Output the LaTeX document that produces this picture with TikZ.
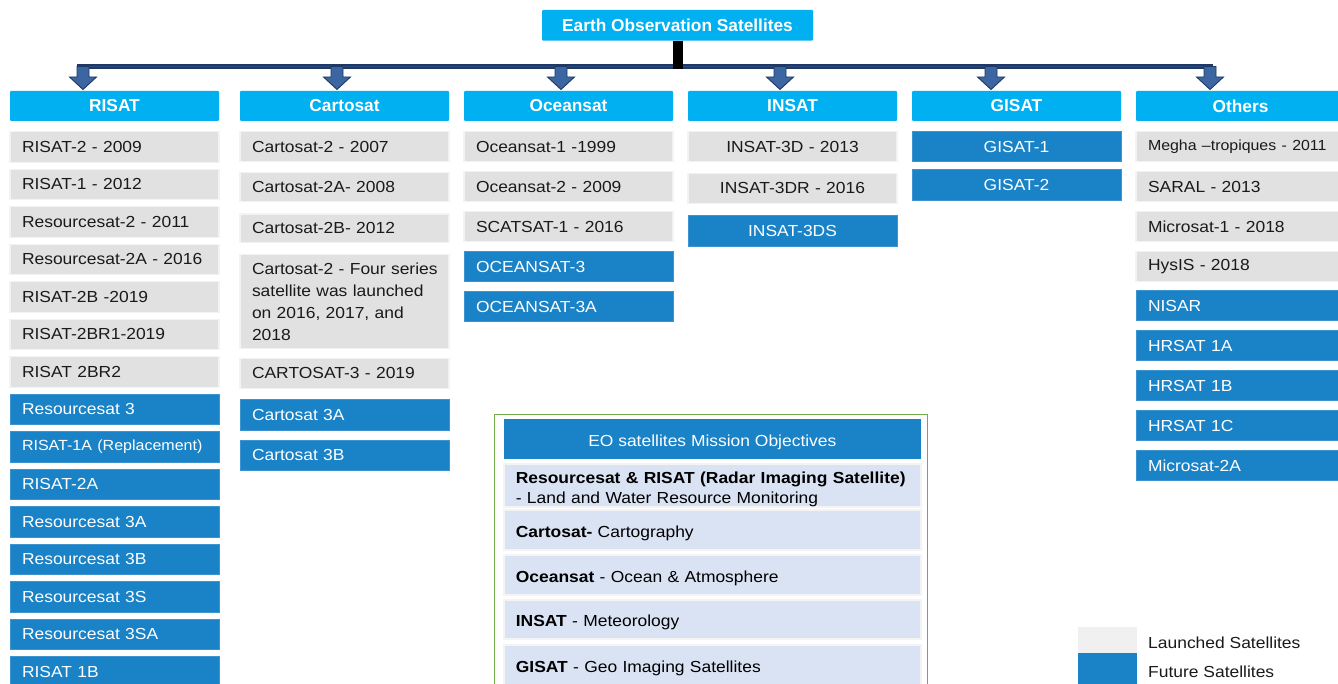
\documentclass[tikz,border=0pt]{standalone}
\usepackage{fontspec}
\setmainfont{Liberation Sans}
\newfontfamily\itemfont{Liberation Sans}[FakeStretch=1.09]
\definecolor{hdr}{HTML}{00B0F0}
\definecolor{fut}{HTML}{1A82C6}
\definecolor{futedge}{HTML}{3C95D0}
\definecolor{lau}{HTML}{E1E1E1}
\definecolor{lauedge}{HTML}{F3F3F3}
\definecolor{leggray}{HTML}{F0F0F0}
\definecolor{objfill}{HTML}{DAE3F3}
\definecolor{objedge}{HTML}{F4F4F4}
\definecolor{navy}{HTML}{1F3864}
\definecolor{businside}{HTML}{2A4C82}
\definecolor{arrowfill}{HTML}{3B66A2}
\definecolor{grn}{HTML}{70AD47}
\definecolor{txt}{HTML}{1A1A1A}
\newcommand{\lowstrut}{\rule{0pt}{18pt}}
\tikzset{
  hdrbox/.style={anchor=north west, outer sep=0pt, inner sep=0pt, fill=hdr, text=white,
    font=\fontsize{17.3}{20}\selectfont\bfseries, minimum width=209pt, minimum height=30pt,
    rounded corners=1pt},
  launched/.style={anchor=north west, outer sep=0pt, fill=lau, draw=lauedge, line width=1.2pt,
    minimum height=30pt, text width=185pt, inner xsep=12pt, inner ysep=0pt, align=left,
    text=txt, font=\itemfont\fontsize{16}{22}\selectfont},
  future/.style={launched, fill=fut, draw=futedge, line width=0.6pt, text=white},
  launchedc/.style={launched, align=center},
  futurec/.style={future, align=center},
  objtitle/.style={anchor=north west, outer sep=0pt, inner sep=0pt, fill=fut, text=white,
    minimum width=416.7pt, minimum height=40pt, font=\itemfont\fontsize{16}{20}\selectfont},
  objitem/.style={anchor=north west, outer sep=0pt, fill=objfill, draw=objedge, line width=2pt,
    text width=393pt, inner xsep=11.85pt, inner ysep=0pt, minimum height=40pt, align=left,
    text=black, font=\itemfont\fontsize{16}{20.7}\selectfont},
  legtext/.style={anchor=west, inner sep=0pt, text=txt, font=\itemfont\fontsize{16}{20}\selectfont},
  bus/.style={navy, line width=4.2pt},
  businner/.style={businside, line width=1.4pt},
  stem/.style={black, line width=10pt},
  blockarrow/.pic={\draw[navy, fill=arrowfill, line width=0.9pt, line join=miter]
    (-6,-24.5) -- (6,-24.5) -- (6,-14) -- (13.5,-14) -- (0,-1.5) -- (-13.5,-14) -- (-6,-14) -- cycle;}
}
\begin{document}
\begin{tikzpicture}[x=1pt,y=-1pt]
\useasboundingbox (0,0) rectangle (1338,684);
\fill[white] (0,0) rectangle (1338,684);

% top node
\node[hdrbox, minimum width=271pt, minimum height=30.7pt] (top) at (542,10) {Earth Observation Satellites};

% column headers
\node[hdrbox] (hR) at (10,91) {RISAT};
\node[hdrbox] (hC) at (240,91) {Cartosat};
\node[hdrbox] (hO) at (464,91) {Oceansat};
\node[hdrbox] (hI) at (688,91) {INSAT};
\node[hdrbox] (hG) at (912,91) {GISAT};
\node[hdrbox] (hX) at (1136,91) {Others};

% bus and arrows
\coordinate (xR) at (83,0);
\coordinate (xC) at (337,0);
\coordinate (xO) at (561,0);
\coordinate (xI) at (780,0);
\coordinate (xG) at (991,0);
\coordinate (xX) at (1210,0);
\coordinate (busL) at (77,66.5);
\coordinate (busR) at (1213,66.5);
\coordinate (stemEnd) at (0,69);
\draw[bus] (busL) -- (busR);
\draw[businner] (busL) -- (busR);
\draw[stem] (top.south) -- (top.south |- stemEnd);
\pic at (xR |- hR.north) {blockarrow};
\pic at (xC |- hC.north) {blockarrow};
\pic at (xO |- hO.north) {blockarrow};
\pic at (xI |- hI.north) {blockarrow};
\pic at (xG |- hG.north) {blockarrow};
\pic at (xX |- hX.north) {blockarrow};

% RISAT column
\node[launched, minimum height=30.5pt] (r1) at (10,131.7) {RISAT-2 - 2009};
\node[launched, minimum height=30.5pt] (r2) at (10,169.2) {RISAT-1 - 2012};
\node[launched, minimum height=30.5pt] (r3) at (10,206.7) {Resourcesat-2 - 2011};
\node[launched, minimum height=30.5pt] (r4) at (10,244.2) {Resourcesat-2A - 2016};
\node[launched, minimum height=30.5pt] (r5) at (10,281.7) {RISAT-2B -2019};
\node[launched, minimum height=30.5pt] (r6) at (10,319.2) {RISAT-2BR1-2019};
\node[launched, minimum height=30.5pt] (r7) at (10,356.7) {RISAT 2BR2};
\node[future, minimum height=30.5pt] (r8) at (10,394.2) {Resourcesat 3};
\node[future, minimum height=30.5pt] (r9) at (10,431.7) {\fontsize{14.7}{20}\selectfont RISAT-1A (Replacement)};
\node[future, minimum height=30.5pt] (r10) at (10,469.2) {RISAT-2A};
\node[future, minimum height=30.5pt] (r11) at (10,506.7) {Resourcesat 3A};
\node[future, minimum height=30.5pt] (r12) at (10,544.2) {Resourcesat 3B};
\node[future, minimum height=30.5pt] (r13) at (10,581.7) {Resourcesat 3S};
\node[future, minimum height=30.5pt] (r14) at (10,619.2) {Resourcesat 3SA};
\node[future, minimum height=30.5pt] (r15) at (10,656.7) {RISAT 1B};

% Cartosat column
\node[launched] (c1) at (240,131.7) {Cartosat-2 - 2007};
\node[launched, minimum height=29pt] (c2) at (240,172.7) {Cartosat-2A- 2008};
\node[launched, minimum height=28.7pt] (c3) at (240,214) {Cartosat-2B- 2012};
\node[launched, minimum height=94pt] (c4) at (240,254.3) {\mbox{Cartosat-2 - Four series}\\\mbox{satellite was launched}\\\mbox{on 2016, 2017, and}\\2018};
\node[launched] (c5) at (240,358.3) {CARTOSAT-3 - 2019};
\node[future, minimum height=30.7pt] (c6) at (240,399.3) {Cartosat 3A};
\node[future, minimum height=30.7pt] (c7) at (240,440) {Cartosat 3B};

% Oceansat column
\node[launched] (o1) at (464,131.7) {Oceansat-1 -1999};
\node[launched] (o2) at (464,171.7) {Oceansat-2 - 2009};
\node[launched] (o3) at (464,211.7) {SCATSAT-1 - 2016};
\node[future] (o4) at (464,251.7) {OCEANSAT-3};
\node[future] (o5) at (464,291.7) {OCEANSAT-3A};

% INSAT column
\node[launchedc] (i1) at (688,131.7) {INSAT-3D - 2013};
\node[launchedc] (i2) at (688,173.3) {INSAT-3DR - 2016};
\node[futurec, minimum height=30.3pt] (i3) at (688,215.7) {INSAT-3DS};

% GISAT column
\node[futurec] (g1) at (912,131.7) {GISAT-1};
\node[futurec, minimum height=30.7pt] (g2) at (912,169.3) {GISAT-2};

% Others column
\node[launched] (x1) at (1136,131.7) {\fontsize{14.6}{20}\selectfont Megha –tropiques - 2011};
\node[launched] (x2) at (1136,171.7) {SARAL - 2013};
\node[launched] (x3) at (1136,211.7) {Microsat-1 - 2018};
\node[launched] (x4) at (1136,251.7) {HysIS - 2018};
\node[future] (x5) at (1136,290.7) {NISAR};
\node[future] (x6) at (1136,330.7) {HRSAT 1A};
\node[future] (x7) at (1136,370.7) {HRSAT 1B};
\node[future] (x8) at (1136,410.7) {HRSAT 1C};
\node[future] (x9) at (1136,450.7) {Microsat-2A};

% Mission objectives panel
\node[anchor=north west, outer sep=0pt, inner sep=0pt, draw=grn, line width=1pt,
      minimum width=433.3pt, minimum height=290pt] (panel) at (494,414) {};
\node[objtitle] (ot) at (504,419.3) {\lowstrut EO satellites Mission Objectives};
\node[objitem, minimum height=41pt] (ob1) at (504,464)
  {\rule{0pt}{19pt}\textbf{Resourcesat \& RISAT (Radar Imaging Satellite)}\\- Land and Water Resource Monitoring};
\node[objitem] (ob2) at (504,510) {\lowstrut\textbf{Cartosat-} Cartography};
\node[objitem] (ob3) at (504,555) {\lowstrut\textbf{Oceansat} - Ocean \& Atmosphere};
\node[objitem, minimum height=39.3pt] (ob4) at (504,600) {\lowstrut\textbf{INSAT} - Meteorology};
\node[objitem] (ob5) at (504,645) {\lowstrut\textbf{GISAT} - Geo Imaging Satellites};

% Legend
\node[anchor=north west, outer sep=0pt, inner sep=0pt, fill=leggray, minimum width=58.4pt, minimum height=26pt] (lg1) at (1078.3,627.3) {};
\node[anchor=north west, outer sep=0pt, inner sep=0pt, fill=fut, minimum width=58.4pt, minimum height=31pt] (lg2) at (1078.3,653.3) {};
\node[legtext] (lt1) at (1148,642.3) {Launched Satellites};
\node[legtext] (lt2) at (1148,671.7) {Future Satellites};
\end{tikzpicture}
\end{document}
